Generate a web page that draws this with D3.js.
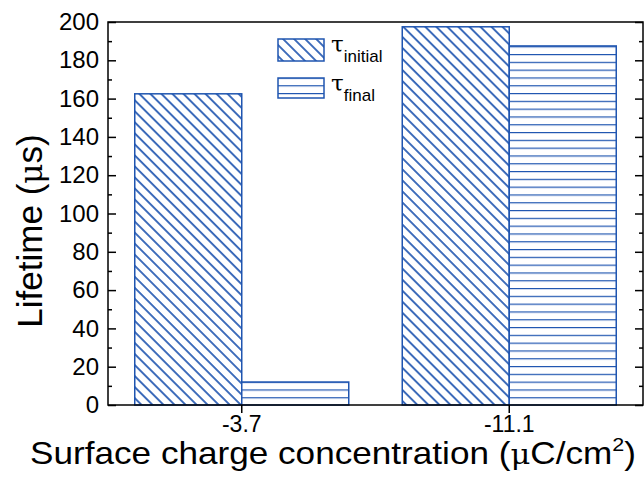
<!DOCTYPE html>
<html><head><meta charset="utf-8">
<script src="https://cdn.jsdelivr.net/npm/d3@7"></script>
<style>
html,body{margin:0;padding:0;background:#fff;}
svg{display:block;font-family:"Liberation Sans",Arial,sans-serif;}
</style></head>
<body>
<svg id="chart" width="644" height="477"></svg>
<script>
const categories = ["-3.7", "-11.1"];
const tauInitial = [162.5, 197.5];
const tauFinal = [12, 187.5];
const seriesNames = ["initial", "final"];
const yMajorTicks = [0, 20, 40, 60, 80, 100, 120, 140, 160, 180, 200];
const yMinorTicks = [10, 30, 50, 70, 90, 110, 130, 150, 170, 190];

const blue = "#1f55b0";
const svg = d3.select("#chart");
const L = 108, R = 643, T = 22, B = 405;

const x = d3.scaleBand().domain(categories).range([L, R]).paddingInner(0).paddingOuter(0);
const xs = d3.scaleBand().domain(seriesNames).range([0, x.bandwidth()*0.8]);
const y = d3.scaleLinear().domain([0, 200]).range([B, T]);

const defs = svg.append("defs");
const pd = defs.append("pattern").attr("id", "diag").attr("patternUnits", "userSpaceOnUse")
  .attr("width", 7.8).attr("height", 20).attr("patternTransform", "rotate(-45)");
pd.append("rect").attr("width", 7.8).attr("height", 20).attr("fill", "#fff");
pd.append("line").attr("x1", 1).attr("x2", 1).attr("y1", 0).attr("y2", 20)
  .attr("stroke", blue).attr("stroke-width", 1.7);
const ph = defs.append("pattern").attr("id", "horiz").attr("patternUnits", "userSpaceOnUse")
  .attr("width", 20).attr("height", 7.8).attr("y", B - 7.8 * 52);
ph.append("rect").attr("width", 20).attr("height", 7.8).attr("fill", "#fff");
ph.append("line").attr("x1", 0).attr("x2", 20).attr("y1", 0).attr("y2", 0)
  .attr("stroke", blue).attr("stroke-width", 2.4);

const fills = {initial: "url(#diag)", final: "url(#horiz)"};
const rows = [];
categories.forEach((c, i) => {
  rows.push({c, s: "initial", v: tauInitial[i]});
  rows.push({c, s: "final", v: tauFinal[i]});
});

svg.append("g").selectAll("rect").data(rows).join("rect")
  .attr("x", d => x(d.c) + x.bandwidth()*0.1 + xs(d.s))
  .attr("y", d => y(d.v))
  .attr("width", xs.bandwidth())
  .attr("height", d => y(0) - y(d.v))
  .attr("fill", d => fills[d.s])
  .attr("stroke", blue).attr("stroke-width", 1.5);

// frame
svg.append("rect").attr("x", L).attr("y", T).attr("width", R - L).attr("height", B - T)
  .attr("fill", "none").attr("stroke", "#000").attr("stroke-width", 1.5);

// left axis
const ga = svg.append("g").attr("transform", `translate(${L},0)`)
  .call(d3.axisLeft(y).tickValues(yMajorTicks).tickSize(-8).tickPadding(9));
ga.select(".domain").remove();
ga.selectAll("line").attr("stroke", "#000").attr("stroke-width", 1.5);
ga.selectAll("text").attr("font-size", 24).attr("fill", "#000")
  .attr("font-family", "Liberation Sans, Arial, sans-serif");
const gm = svg.append("g").attr("transform", `translate(${L},0)`)
  .call(d3.axisLeft(y).tickValues(yMinorTicks).tickSize(-4).tickFormat(""));
gm.select(".domain").remove();
gm.selectAll("line").attr("stroke", "#000").attr("stroke-width", 1.5);

// right axis
const gr = svg.append("g").attr("transform", `translate(${R},0)`)
  .call(d3.axisRight(y).tickValues(yMajorTicks).tickSize(-8).tickFormat(""));
gr.select(".domain").remove();
gr.selectAll("line").attr("stroke", "#000").attr("stroke-width", 1.5);
const grm = svg.append("g").attr("transform", `translate(${R},0)`)
  .call(d3.axisRight(y).tickValues(yMinorTicks).tickSize(-4).tickFormat(""));
grm.select(".domain").remove();
grm.selectAll("line").attr("stroke", "#000").attr("stroke-width", 1.5);

// bottom axis
const gb = svg.append("g").attr("transform", `translate(0,${B})`)
  .call(d3.axisBottom(x).tickSize(8).tickPadding(3));
gb.select(".domain").remove();
gb.selectAll("line").attr("stroke", "#000").attr("stroke-width", 1.5);
gb.selectAll("text").attr("font-size", 23).attr("fill", "#000")
  .attr("font-family", "Liberation Sans, Arial, sans-serif");

// axis titles
const yt = svg.append("text").attr("transform", "translate(42,231) rotate(-90)")
  .attr("text-anchor", "middle").attr("font-size", 35).attr("fill", "#000");
yt.append("tspan").text("Lifetime (");
yt.append("tspan").attr("font-family", "DejaVu Serif, serif").attr("font-size", 31).text("\u03bc");
yt.append("tspan").text("s)");

const xtg = svg.append("g");
const xt = xtg.append("text").attr("x", 0).attr("y", 0)
  .attr("text-anchor", "middle").attr("font-size", 31).attr("fill", "#000");
xt.append("tspan").text("Surface charge concentration (");
xt.append("tspan").attr("font-family", "DejaVu Serif, serif").attr("font-size", 27).text("\u03bc");
xt.append("tspan").text("C/cm");
xt.append("tspan").attr("font-size", 19).attr("dy", -13).text("2");
xt.append("tspan").attr("dy", 13).text(")");
const w = xt.node().getComputedTextLength();
const sx = 606 / w;
xtg.attr("transform", `translate(333,464) scale(${sx},1)`);

// legend
const legY = [39, 78];
const legH = [22, 20];
seriesNames.forEach((s, i) => {
  svg.append("rect").attr("x", 278).attr("y", legY[i]).attr("width", 46).attr("height", legH[i])
    .attr("fill", fills[s]).attr("stroke", blue).attr("stroke-width", 1.5);
  const t = svg.append("text").attr("x", 331).attr("y", legY[i] + 13).attr("font-size", 23).attr("fill", "#000");
  t.append("tspan").attr("font-family", "DejaVu Serif, serif").text("\u03c4");
  t.append("tspan").attr("font-size", 17).attr("dy", 10).text(s);
});
</script>
</body></html>
